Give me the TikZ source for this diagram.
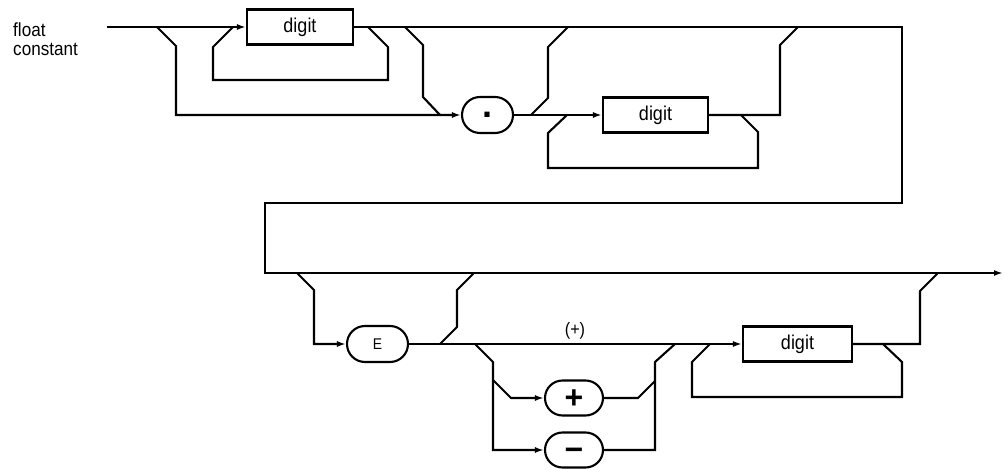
\documentclass[tikz,border=0pt]{standalone}
\usepackage{fontspec}
\setmainfont{Liberation Sans}
\newfontfamily\narrowfont[FakeStretch=0.9]{Liberation Sans}
\usetikzlibrary{shapes.misc,arrows.meta}
\begin{document}
\begin{tikzpicture}[x=1pt,y=-1pt,
  wire/.style={line width=2.1pt, line join=miter},
  arr/.style={wire,-{Latex[length=9pt,width=6pt]}},
  termbox/.style={draw, line width=2.1pt, rectangle, minimum width=106pt, minimum height=35pt, inner sep=0pt, font=\narrowfont\fontsize{20}{20}\selectfont},
  oval/.style={draw, line width=2.1pt, rounded rectangle, minimum height=36pt, inner sep=0pt},
  lbl/.style={inner sep=0pt, font=\narrowfont\fontsize{19}{19}\selectfont},
  sym/.style={font=\bfseries\fontsize{32}{32}\selectfont, text height=22pt, text depth=0pt}
  ]
\fill[white] (0,0) rectangle (1005,470);

% title
\node[lbl, anchor=north west, align=left] (title) at (13,23) {float\\constant};

% nodes
\node[termbox] (d1) at (300,27) {digit};
\node[oval, minimum width=51pt, font=\bfseries\fontsize{36}{36}\selectfont, text height=4.8pt, text depth=0pt] (dot) at (487.5,115) {.};
\node[termbox, minimum width=105pt] (d2) at (655.5,115) {digit};
\node[oval, minimum width=61pt, font=\narrowfont\fontsize{15.5}{15.5}\selectfont] (E) at (377.5,344) {E};
\node[oval, minimum width=58pt, minimum height=35pt, sym] (plus) at (574,398) {+};
\node[oval, minimum width=58pt, minimum height=35pt, sym, text height=21pt] (minus) at (574,450) {−};
\node[inner sep=0pt, font=\narrowfont\fontsize{18}{18}\selectfont] (sgn) at (575,331) {(+)};
\node[termbox, minimum width=109pt] (d3) at (797.5,344) {digit};

% main line
\coordinate (start) at (107,27);
\coordinate (tr) at (902,27);
\coordinate (br) at (902,203);
\coordinate (bl) at (265,203);
\coordinate (ml) at (265,273);
\coordinate (fin) at (1003,273);
\draw[arr] (start) -- (d1.west);
\draw[arr] (d1.east) -- (tr) -- (br) -- (bl) -- (ml) -- (fin);

% loop 1
\coordinate (l1a) at (368,27);
\coordinate (l1b) at (233,27);
\draw[wire] (l1a) -- (388,47) -- (388,80) -- (213,80) -- (213,47) -- (l1b);

% bypass A
\coordinate (jA) at (157,27);
\draw[arr] (jA) -- (176,46) -- (176,115) -- (dot.west);

% branch B
\coordinate (jB) at (405,27);
\coordinate (mB) at (440,115);
\draw[wire] (jB) -- (423,45) -- (423,97) -- (mB);

% after dot
\draw[arr] (dot.east) -- (d2.west);

% branch C
\coordinate (jC) at (531,115);
\coordinate (mC) at (568,27);
\draw[wire] (jC) -- (548,98) -- (548,47) -- (mC);

% loop 2
\coordinate (l2a) at (741,115);
\coordinate (l2b) at (567,115);
\draw[wire] (l2a) -- (758,132) -- (758,168) -- (548,168) -- (548,133) -- (l2b);

% after digit 2
\coordinate (mD2) at (798,27);
\draw[wire] (d2.east) -- (780,115) -- (780,45) -- (mD2);

% E branch
\coordinate (jE) at (297,273);
\draw[arr] (jE) -- (314,290) -- (314,344) -- (E.west);

% after E
\draw[arr] (E.east) -- (d3.west);

% branch D
\coordinate (jD) at (440,344);
\coordinate (mD) at (474,273);
\draw[wire] (jD) -- (457,327) -- (457,290) -- (mD);

% sign branch
\coordinate (jS) at (475,344);
\coordinate (jP) at (493,380);
\coordinate (mS) at (675,344);
\draw[arr] (jS) -- (493,362) -- (493,450) -- (minus.west);
\draw[arr] (jP) -- (511,398) -- (plus.west);
\draw[wire] (plus.east) -- (638,398) -- (655,381);
\draw[wire] (minus.east) -- (655,450) -- (655,362) -- (mS);

% loop 3
\coordinate (l3a) at (883,344);
\coordinate (l3b) at (710,344);
\draw[wire] (l3a) -- (902,362) -- (902,397) -- (692,397) -- (692,362) -- (l3b);

% after digit 3
\coordinate (mE) at (938,273);
\draw[wire] (d3.east) -- (920,344) -- (920,291) -- (mE);
\end{tikzpicture}
\end{document}
